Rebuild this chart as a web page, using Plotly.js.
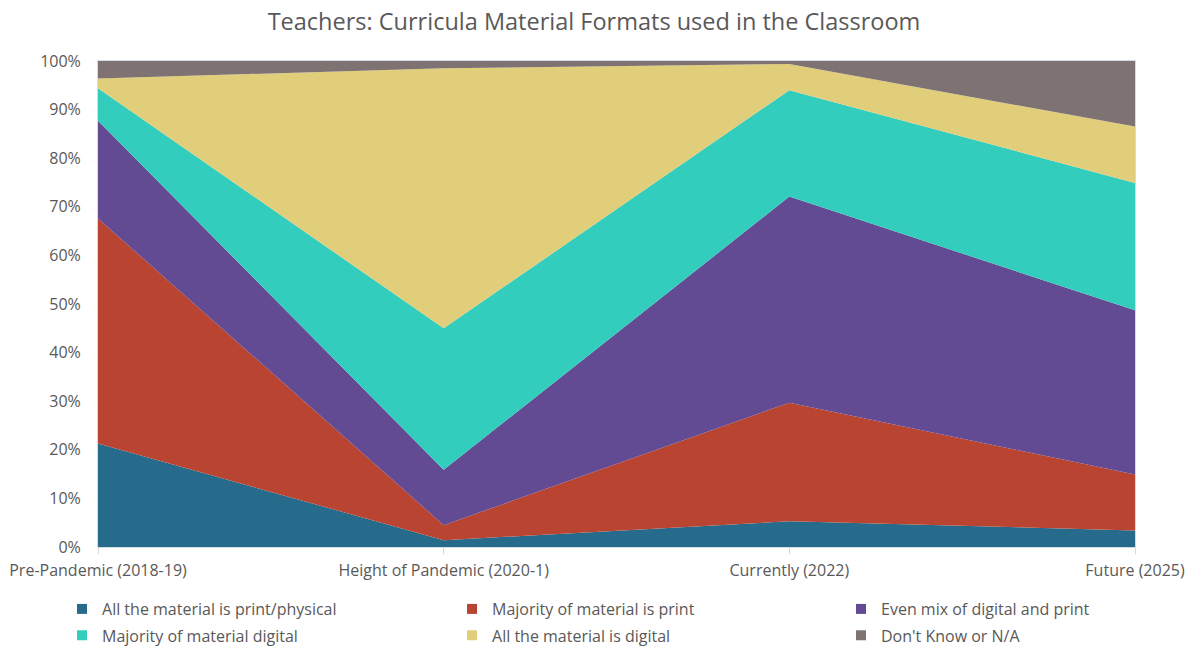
<!DOCTYPE html>
<html>
<head>
<meta charset="utf-8">
<script src="https://cdn.plot.ly/plotly-3.0.1.min.js"></script>
<style>html,body{margin:0;padding:0;background:#fff;}#chart{width:1188px;height:646px;}</style>
</head>
<body>
<div id="chart"></div>
<script>
const categories = ["Pre-Pandemic (2018-19)", "Height of Pandemic (2020-1)", "Currently (2022)", "Future (2025)"];
const seriesNames = ["All the material is print/physical", "Majority of material is print", "Even mix of digital and print", "Majority of material digital", "All the material is digital", "Don't Know or N/A"];
const printPhysical = [21.3, 1.4, 5.3, 3.4];
const majorityPrint = [46.3, 3.1, 24.4, 11.5];
const evenMix = [20.1, 11.4, 42.4, 33.8];
const majorityDigital = [6.7, 29.1, 21.9, 26.2];
const allDigital = [2.0, 53.5, 5.4, 11.6];
const dontKnow = [3.6, 1.5, 0.6, 13.5];
const yTicks = [0, 10, 20, 30, 40, 50, 60, 70, 80, 90, 100];

const seriesValues = [printPhysical, majorityPrint, evenMix, majorityDigital, allDigital, dontKnow];
const colors = ["#276B8C", "#B94431", "#634B93", "#33CDBE", "#E0CE7B", "#7F7272"];
const xIdx = categories.map((c, i) => i);
const legendIds = ["legend", "legend2", "legend3", "legend4", "legend5", "legend6"];

const areaTraces = seriesValues.map((vals, k) => ({
  type: "scatter",
  mode: "none",
  x: xIdx,
  y: vals,
  name: seriesNames[k],
  stackgroup: "one",
  groupnorm: k === 0 ? "percent" : undefined,
  fillcolor: colors[k],
  line: {width: 0},
  showlegend: false
}));

const legendTraces = seriesNames.map((nm, k) => ({
  type: "scatter",
  mode: "markers",
  x: [null],
  y: [null],
  name: nm,
  marker: {symbol: "square", size: 10, color: colors[k]},
  showlegend: true,
  legend: legendIds[k]
}));

const fontFam = "'Open Sans', sans-serif";
const legendCommon = {
  orientation: "h",
  xanchor: "left",
  yanchor: "middle",
  font: {family: fontFam, size: 16, color: "#595959"},
  bgcolor: "rgba(0,0,0,0)",
  borderwidth: 0
};
const legX = [-0.0347, 0.3414, 0.7165];
const legY = [-0.1276, -0.182];

const layout = {
  width: 1188,
  height: 646,
  margin: {l: 98, r: 53, t: 61, b: 99, autoexpand: false},
  paper_bgcolor: "#ffffff",
  plot_bgcolor: "#ffffff",
  font: {family: fontFam, color: "#595959", size: 16},
  title: {
    text: "Teachers: Curricula Material Formats used in the Classroom",
    font: {family: fontFam, size: 23.5, color: "#595959"},
    x: 0.5, xanchor: "center", y: 0.966, yanchor: "middle"
  },
  xaxis: {
    range: [0, 3],
    tickvals: xIdx,
    ticktext: categories,
    showgrid: false,
    zeroline: false,
    showline: true,
    mirror: true,
    linecolor: "#D3DAE1",
    linewidth: 1,
    ticks: "outside",
    ticklen: 6,
    tickcolor: "#D9D9D9",
    ticklabelstandoff: 3,
    tickfont: {family: fontFam, size: 16, color: "#595959"},
    fixedrange: true
  },
  yaxis: {
    range: [0, 100],
    tickvals: yTicks,
    ticktext: yTicks.map(v => v + "%"),
    showgrid: false,
    zeroline: false,
    showline: true,
    mirror: true,
    linecolor: "#D3DAE1",
    linewidth: 1,
    ticks: "",
    ticklabelstandoff: 13,
    tickfont: {family: fontFam, size: 16, color: "#595959"},
    fixedrange: true
  },
  showlegend: true
};
legendIds.forEach((id, k) => {
  layout[id] = Object.assign({}, legendCommon, {x: legX[k % 3], y: legY[Math.floor(k / 3)]});
});

Plotly.newPlot("chart", areaTraces.concat(legendTraces), layout, {displayModeBar: false, staticPlot: true});
</script>
</body>
</html>
